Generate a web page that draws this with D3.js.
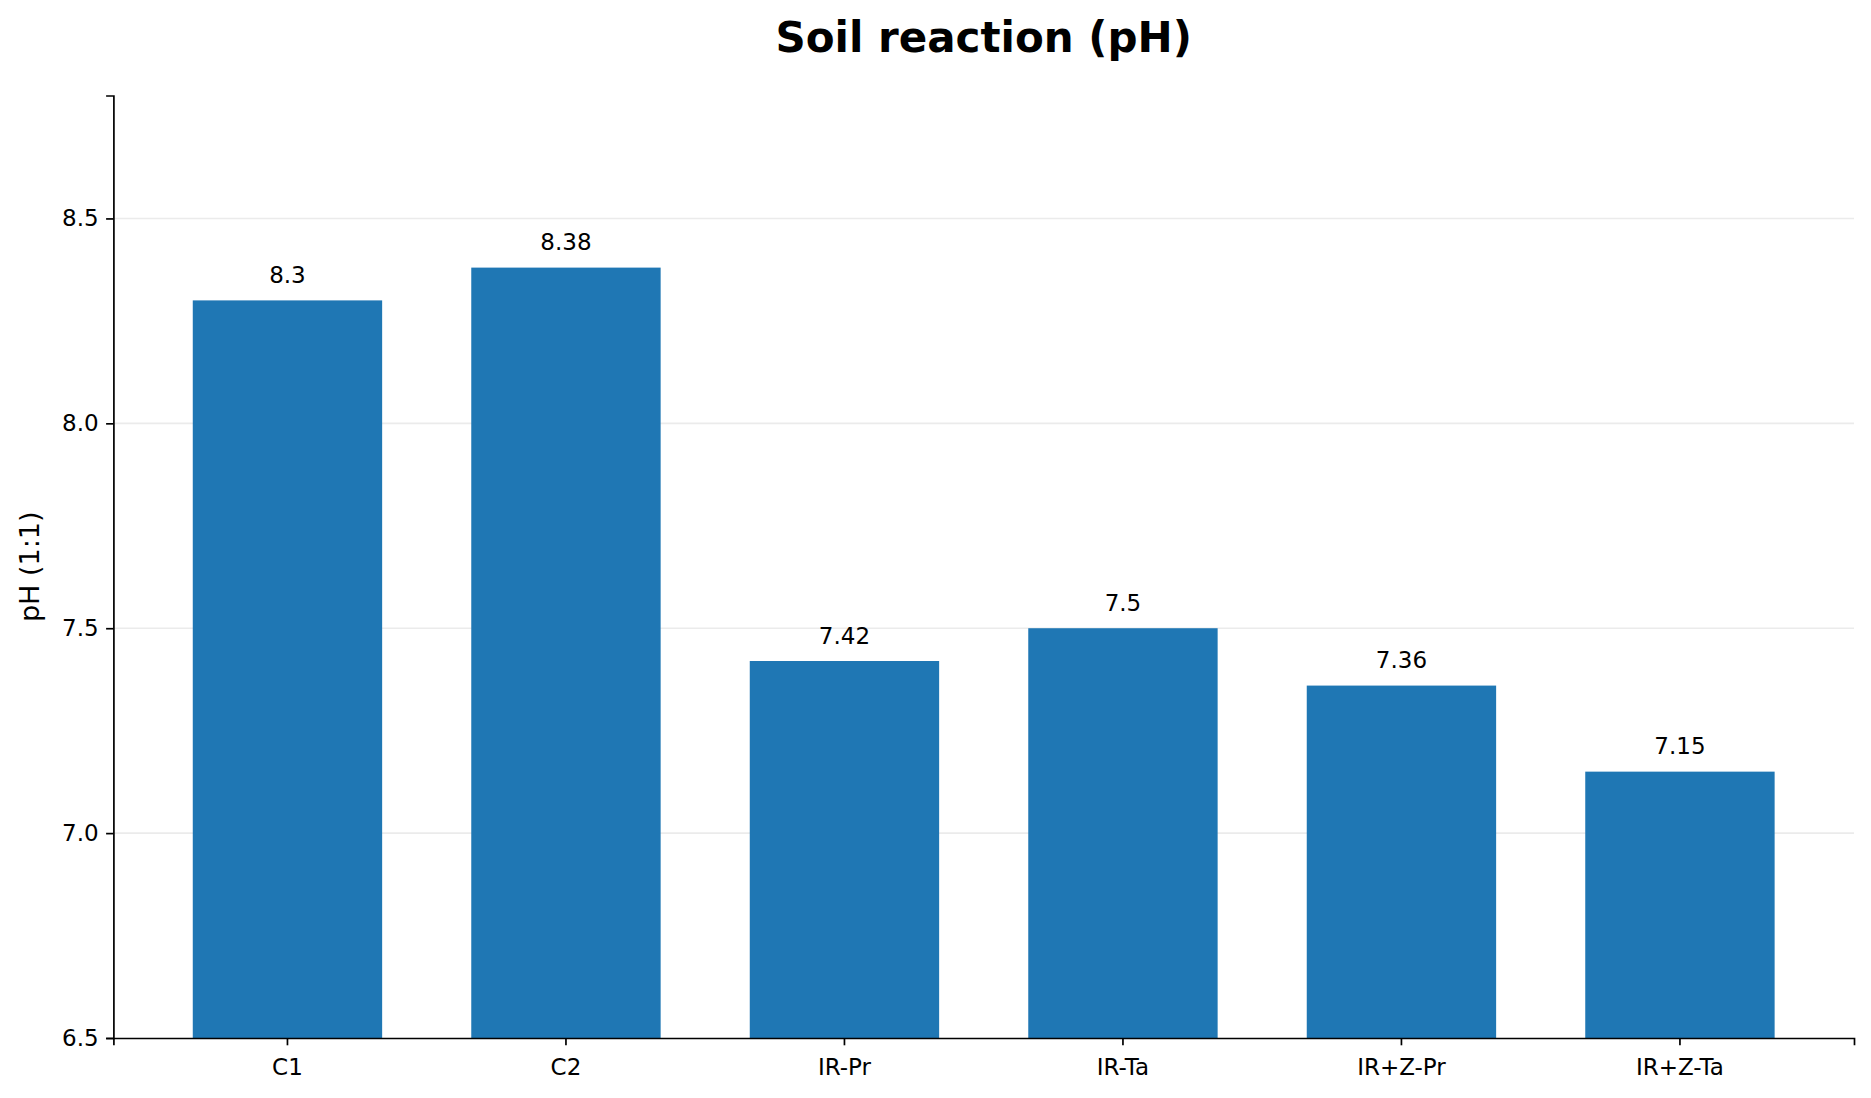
<!DOCTYPE html>
<html>
<head>
<meta charset="utf-8">
<script src="https://cdn.jsdelivr.net/npm/d3@7"></script>
<style>
  html, body { margin: 0; padding: 0; background: #fff; }
  svg text { font-family: "DejaVu Sans", sans-serif; }
</style>
</head>
<body>
<div id="chart"></div>
<script>
// data
const categories = ["C1", "C2", "IR-Pr", "IR-Ta", "IR+Z-Pr", "IR+Z-Ta"];
const phValues = [8.3, 8.38, 7.42, 7.5, 7.36, 7.15];
const yTicks = [6.5, 7.0, 7.5, 8.0, 8.5];
const yDomain = [6.5, 8.8];

const W = 1871, H = 1098;
const margin = { top: 95.5, right: 17, bottom: 60, left: 113.4 };
const width = W - margin.left - margin.right,
    height = H - margin.top - margin.bottom;

const svg = d3.select("#chart")
    .append("svg")
    .attr("width", W)
    .attr("height", H);

const g = svg.append("g")
    .attr("transform", `translate(${margin.left},${margin.top})`);

const x = d3.scaleBand()
    .domain(categories)
    .range([0, width])
    .paddingInner(0.32)
    .paddingOuter(0.285);

const y = d3.scaleLinear()
    .domain(yDomain)
    .range([height, 0]);

// grid
g.append("g")
    .selectAll("line")
    .data(yTicks.slice(1))
    .enter()
    .append("line")
    .attr("x1", 0)
    .attr("x2", width)
    .attr("y1", d => y(d))
    .attr("y2", d => y(d))
    .attr("stroke", "#ebebeb")
    .attr("stroke-width", 1.6);

// bars
g.selectAll("rect.bar")
    .data(phValues)
    .enter()
    .append("rect")
    .attr("class", "bar")
    .attr("x", (d, i) => x(categories[i]))
    .attr("width", x.bandwidth())
    .attr("y", d => y(d))
    .attr("height", d => height - y(d))
    .attr("fill", "#1f77b4");

// value labels
g.selectAll("text.val")
    .data(phValues)
    .enter()
    .append("text")
    .attr("class", "val")
    .attr("x", (d, i) => x(categories[i]) + x.bandwidth() / 2)
    .attr("y", d => y(d) - 17.5)
    .attr("text-anchor", "middle")
    .style("font-size", "23px")
    .text(d => d);

// axes
const yAxis = g.append("g")
    .call(d3.axisLeft(y)
        .tickValues(yTicks)
        .tickFormat(d3.format(".1f"))
        .tickSizeOuter(0)
        .tickSize(7.3)
        .tickPadding(7.5));

const xAxis = g.append("g")
    .attr("transform", `translate(0,${height})`)
    .call(d3.axisBottom(x)
        .tickSizeOuter(0)
        .tickSize(7.3)
        .tickPadding(13));

[yAxis, xAxis].forEach(a => {
    a.select(".domain").attr("stroke", "#000").attr("stroke-width", 1.7);
    a.selectAll(".tick line").attr("stroke", "#000").attr("stroke-width", 1.7);
    a.selectAll(".tick text")
        .attr("fill", "#000")
        .style("font-size", "23px")
        .style("font-family", "DejaVu Sans, sans-serif");
});

// y label
svg.append("text")
    .attr("transform", `translate(39,${margin.top + height / 2}) rotate(-90)`)
    .attr("text-anchor", "middle")
    .style("font-size", "27px")
    .text("pH (1:1)");

// title
svg.append("text")
    .attr("x", margin.left + width / 2)
    .attr("y", 52)
    .attr("text-anchor", "middle")
    .style("font-size", "42px")
    .style("font-weight", "bold")
    .text("Soil reaction (pH)");
</script>
</body>
</html>
